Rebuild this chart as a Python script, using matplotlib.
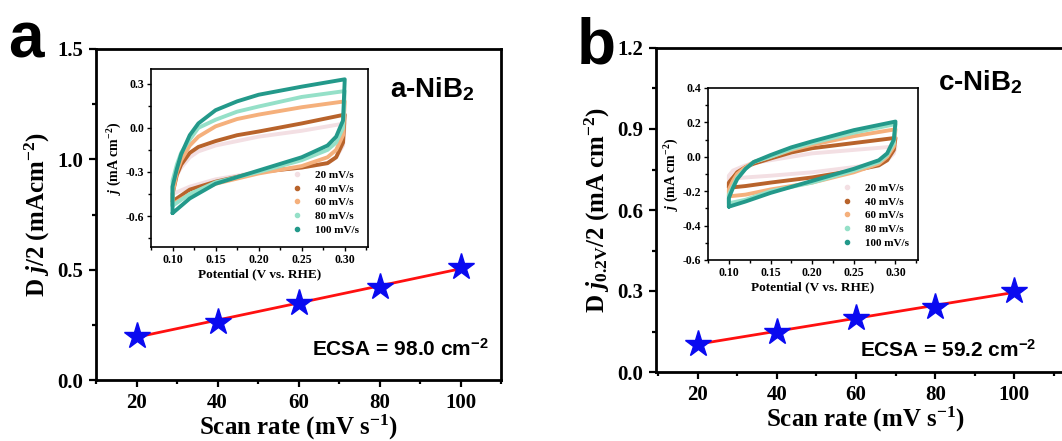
import numpy as np
import matplotlib
matplotlib.use("Agg")
import matplotlib.pyplot as plt
from matplotlib.lines import Line2D
from matplotlib.ticker import MultipleLocator, FormatStrFormatter

plt.rcParams['font.family'] = 'Liberation Serif'
plt.rcParams['font.weight'] = 'bold'
plt.rcParams['axes.labelweight'] = 'bold'
plt.rcParams['mathtext.fontset'] = 'custom'
plt.rcParams['mathtext.rm'] = 'Liberation Serif:bold'
plt.rcParams['mathtext.it'] = 'Liberation Serif:italic:bold'
plt.rcParams['mathtext.bf'] = 'Liberation Serif:bold'
plt.rcParams['mathtext.sf'] = 'Liberation Sans:bold'

# scan rates (mV/s) and half current-density differences
scan_rate = [20, 40, 60, 80, 100]
dj_a = [0.20, 0.265, 0.35, 0.42, 0.51]
dj_b = [0.105, 0.15, 0.20, 0.24, 0.30]

# CV inset data: forward sweep 0.10 -> 0.30 V, reverse sweep 0.30 -> 0.10 V
cv_labels = ['20 mV/s', '40 mV/s', '60 mV/s', '80 mV/s', '100 mV/s']
cv_colors = ['#f3dfe3', '#b8632b', '#f5b07c', '#95e0c8', '#23998a']
v_fwd = [0.100, 0.100, 0.105, 0.110, 0.120, 0.130, 0.150, 0.175, 0.200, 0.250, 0.300]
v_rev = [0.300, 0.298, 0.290, 0.280, 0.250, 0.200, 0.150, 0.120, 0.100]

a_fwd = [
    [-0.45, -0.40, -0.32, -0.27, -0.20, -0.16, -0.12, -0.09, -0.06, -0.02, 0.03],
    [-0.50, -0.45, -0.32, -0.25, -0.17, -0.13, -0.09, -0.05, -0.025, 0.03, 0.09],
    [-0.52, -0.45, -0.30, -0.22, -0.12, -0.06, 0.01, 0.06, 0.09, 0.14, 0.18],
    [-0.53, -0.36, -0.25, -0.17, -0.08, 0.00, 0.055, 0.11, 0.145, 0.21, 0.25],
    [-0.58, -0.40, -0.28, -0.18, -0.05, 0.03, 0.12, 0.18, 0.225, 0.28, 0.33],
]
a_rev = [
    [0.03, -0.12, -0.20, -0.24, -0.27, -0.30, -0.35, -0.40, -0.45],
    [0.09, -0.10, -0.20, -0.24, -0.27, -0.30, -0.366, -0.42, -0.50],
    [0.18, -0.05, -0.15, -0.20, -0.26, -0.31, -0.38, -0.45, -0.52],
    [0.25, 0.00, -0.10, -0.15, -0.22, -0.30, -0.37, -0.45, -0.53],
    [0.33, 0.05, -0.06, -0.12, -0.20, -0.29, -0.38, -0.48, -0.58],
]
b_fwd = [
    [-0.13, -0.11, -0.08, -0.07, -0.05, -0.035, -0.02, 0.00, 0.02, 0.04, 0.06],
    [-0.18, -0.15, -0.12, -0.09, -0.06, -0.04, -0.01, 0.025, 0.05, 0.08, 0.11],
    [-0.23, -0.19, -0.14, -0.10, -0.06, -0.03, 0.00, 0.04, 0.07, 0.12, 0.16],
    [-0.27, -0.22, -0.17, -0.12, -0.07, -0.03, 0.00, 0.045, 0.08, 0.14, 0.19],
    [-0.29, -0.24, -0.18, -0.13, -0.07, -0.03, 0.01, 0.055, 0.09, 0.155, 0.205],
]
b_rev = [
    [0.06, 0.02, -0.02, -0.04, -0.06, -0.09, -0.11, -0.12, -0.13],
    [0.11, 0.04, -0.02, -0.05, -0.08, -0.12, -0.15, -0.17, -0.18],
    [0.16, 0.06, 0.00, -0.04, -0.09, -0.15, -0.19, -0.22, -0.23],
    [0.19, 0.08, 0.01, -0.03, -0.08, -0.15, -0.20, -0.25, -0.27],
    [0.205, 0.10, 0.02, -0.02, -0.07, -0.14, -0.21, -0.26, -0.29],
]

W, H = 1062, 441
fig = plt.figure(figsize=(W / 100, H / 100), dpi=100)


def px_axes(x0, y0, x1, y1):
    # axes from pixel box (top-left origin)
    return fig.add_axes([x0 / W, (H - y1) / H, (x1 - x0) / W, (y1 - y0) / H])


def style_main(ax, ylim, ymaj):
    ax.set_xlim(10, 110)
    ax.set_ylim(*ylim)
    ax.xaxis.set_major_locator(MultipleLocator(20))
    ax.xaxis.set_minor_locator(MultipleLocator(10))
    ax.yaxis.set_major_locator(MultipleLocator(ymaj))
    ax.yaxis.set_minor_locator(MultipleLocator(ymaj / 2))
    for s in ax.spines.values():
        s.set_linewidth(2.0)
    ax.tick_params(which='both', direction='out', width=1.6, labelsize=15)
    ax.tick_params(which='major', length=5, pad=4)
    ax.tick_params(which='minor', length=3)
    ax.yaxis.set_major_formatter(FormatStrFormatter('%.1f'))
    ax.set_xlabel(r'Scan rate (mV s$^{-1}$)', fontsize=18, labelpad=0)


def style_inset(ax, ylim, ymaj):
    ax.set_xlim(0.075, 0.327)
    ax.set_ylim(*ylim)
    ax.xaxis.set_major_locator(MultipleLocator(0.05))
    ax.xaxis.set_minor_locator(MultipleLocator(0.025))
    ax.yaxis.set_major_locator(MultipleLocator(ymaj))
    ax.yaxis.set_minor_locator(MultipleLocator(ymaj / 2))
    for s in ax.spines.values():
        s.set_linewidth(1.2)
    ax.tick_params(which='both', direction='out', width=1.0, labelsize=8.5)
    ax.tick_params(which='major', length=3, pad=2)
    ax.tick_params(which='minor', length=2)
    ax.xaxis.set_major_formatter(FormatStrFormatter('%.2f'))
    ax.yaxis.set_major_formatter(FormatStrFormatter('%.1f'))
    ax.set_xlabel('Potential (V vs. RHE)', fontsize=9.5, labelpad=2)
    ax.set_ylabel(r'$j$ (mA cm$^{-2}$)', fontsize=10, labelpad=1)


def draw_cv(ax, fwd, rev):
    for up, down, c in zip(fwd, rev, cv_colors):
        ax.plot(v_fwd + v_rev, up + down, color=c, lw=2.8,
                solid_joinstyle='round', solid_capstyle='round')
    handles = [Line2D([], [], ls='none', marker='o', ms=3, color=c) for c in cv_colors]
    ax.legend(handles, cv_labels, loc='lower right', frameon=False, fontsize=8,
              handletextpad=0.6, labelspacing=0.35, borderaxespad=0.4,
              bbox_to_anchor=(1.0, 0.02))


def draw_fit(ax, dj):
    k, b = np.polyfit(scan_rate, dj, 1)
    xs = np.array([scan_rate[0], scan_rate[-1]])
    ax.plot(xs, k * xs + b, color='#ff1010', lw=2.0, zorder=2)
    ax.plot(scan_rate, dj, ls='none', marker='*', ms=20, color='#0a0af0', zorder=3)


sans = dict(family='Liberation Sans', fontweight='bold')

# panel a
ax_a = px_axes(96, 49, 501, 380)
style_main(ax_a, (0, 1.5), 0.5)
draw_fit(ax_a, dj_a)
ax_a.set_ylabel(r'D $j$/2 (mAcm$^{-2}$)', fontsize=18, labelpad=4)
fig.text(390 / W, (H - 97) / H, r'a-NiB$_\mathsf{2}$', fontsize=20, va='baseline', **sans)
fig.text(312 / W, (H - 356) / H, r'ECSA = 98.0 cm$^\mathsf{-2}$', fontsize=15, va='baseline', **sans)
fig.text(8 / W, (H - 58) / H, 'a', fontsize=46, va='baseline', **sans)

ins_a = px_axes(151, 69, 368, 247)
style_inset(ins_a, (-0.81, 0.40), 0.3)
draw_cv(ins_a, a_fwd, a_rev)

# panel b
ax_b = px_axes(656, 48, 1075, 372)
style_main(ax_b, (0, 1.2), 0.3)
ax_b.set_xlim(9.5, 115.3)
draw_fit(ax_b, dj_b)
ax_b.set_ylabel(r'D $j_{0.2\mathrm{V}}$/2 (mA cm$^{-2}$)', fontsize=18, labelpad=4)
fig.text(938 / W, (H - 90) / H, r'c-NiB$_\mathsf{2}$', fontsize=20, va='baseline', **sans)
fig.text(860 / W, (H - 357) / H, r'ECSA = 59.2 cm$^\mathsf{-2}$', fontsize=15, va='baseline', **sans)
fig.text(577 / W, (H - 63) / H, 'b', fontsize=46, va='baseline', **sans)

ins_b = px_axes(708, 88, 918, 260)
style_inset(ins_b, (-0.6, 0.4), 0.2)
draw_cv(ins_b, b_fwd, b_rev)

fig.savefig('out.png', dpi=100, facecolor='white')
